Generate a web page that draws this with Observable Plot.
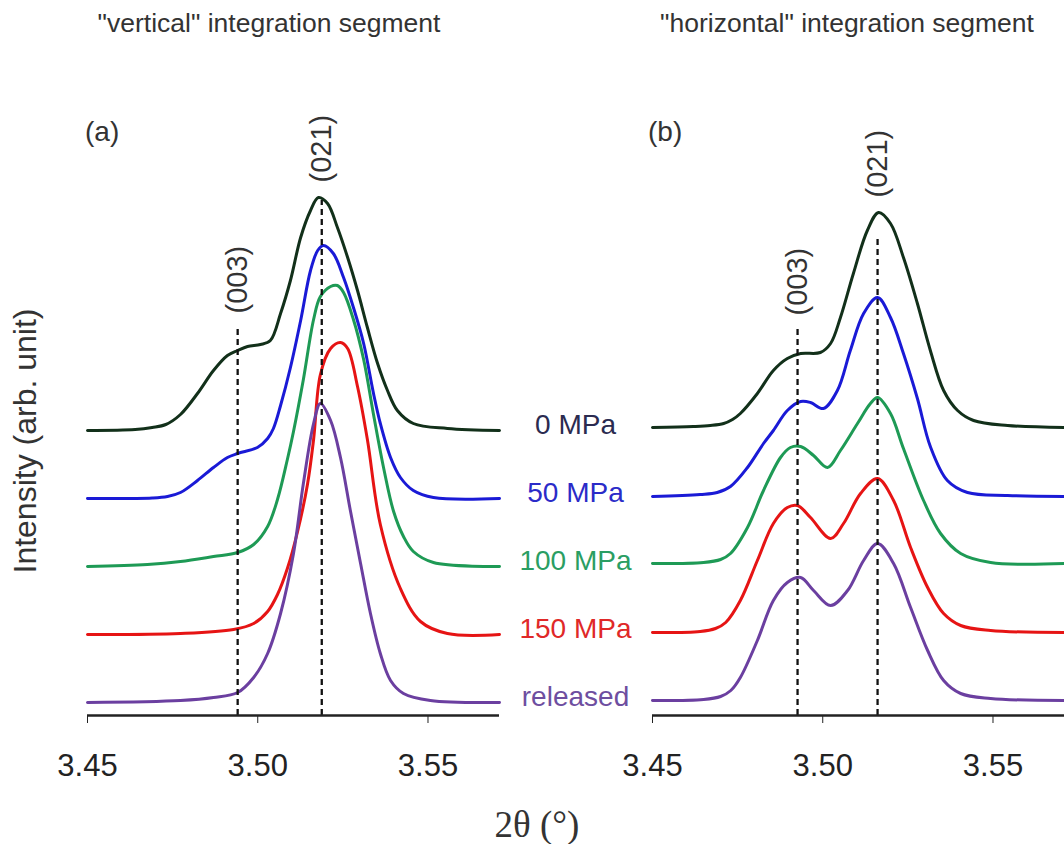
<!DOCTYPE html>
<html><head><meta charset="utf-8">
<script src="https://cdn.jsdelivr.net/npm/d3@7"></script>
<script src="https://cdn.jsdelivr.net/npm/@observablehq/plot@0.6"></script>
<style>
body{margin:0;background:#fff;}
#wrap{position:relative;width:1064px;height:844px;overflow:hidden;background:#fff;font-family:Arial,"Liberation Sans",sans-serif;}
#wrap > svg{position:absolute;top:0;}
</style></head><body><div id="wrap"></div>
<script>
// ---- data ----
const series = ["0 MPa", "50 MPa", "100 MPa", "150 MPa", "released"];
const lineColors = ["#12301a", "#1a1ad6", "#1e9a55", "#e61414", "#6b3fa0"];
const labelColors = ["#2b2b50", "#2b2bc8", "#2a9e63", "#e02828", "#6e4ea0"];
const xTicks = [3.45, 3.50, 3.55];
const xDomain = [3.45, 3.571];

// stacking offsets (arb. units) for each series
const offsetsA = [285, 217, 149, 81, 13];
const offsetsB = [288, 219, 152, 83, 15];

// panel (a) "vertical" integration segment: [2theta, intensity above own baseline]
const a0 = [[3.4500,0],[3.4640,1],[3.4690,3],[3.4730,6],[3.4773,16],[3.4823,37],[3.4870,60],[3.4911,75],[3.4941,80],[3.4970,84],[3.5008,86],[3.5037,90],[3.5067,117],[3.5096,150],[3.5126,193],[3.5155,220],[3.5178,233],[3.5205,227],[3.5234,203],[3.5264,173],[3.5293,140],[3.5322,103],[3.5352,67],[3.5381,40],[3.5410,20],[3.5457,7],[3.5557,2],[3.5710,0]];
const a1 = [[3.4500,0],[3.4690,0.5],[3.4735,2],[3.4773,6],[3.4823,18],[3.4870,31],[3.4911,41],[3.4941,45],[3.4999,51],[3.5029,60],[3.5046,70],[3.5067,93],[3.5096,131],[3.5126,178],[3.5155,228],[3.5176,248],[3.5193,253],[3.5222,245],[3.5252,221],[3.5281,191],[3.5311,155],[3.5340,105],[3.5360,75],[3.5390,41],[3.5419,21],[3.5457,8],[3.5516,1],[3.5710,0]];
const a2 = [[3.4500,0],[3.4676,2],[3.4773,5],[3.4870,10],[3.4941,14],[3.4988,22],[3.5029,40],[3.5058,67],[3.5087,107],[3.5105,135],[3.5134,187],[3.5164,247],[3.5184,270],[3.5214,280],[3.5234,281],[3.5252,274],[3.5281,247],[3.5311,207],[3.5340,152],[3.5370,98],[3.5399,55],[3.5428,30],[3.5457,15],[3.5516,4],[3.5710,0]];
const a3 = [[3.4500,0],[3.4773,1],[3.4929,5],[3.4988,11],[3.5029,23],[3.5058,40],[3.5087,66],[3.5117,103],[3.5146,150],[3.5164,195],[3.5184,260],[3.5214,286],[3.5243,292],[3.5264,286],[3.5293,248],[3.5322,195],[3.5360,110],[3.5419,46],[3.5478,13],[3.5557,1],[3.5710,0]];
const a4 = [[3.4500,0],[3.4773,2],[3.4870,5],[3.4941,10],[3.4988,25],[3.5029,49],[3.5067,89],[3.5105,149],[3.5134,219],[3.5164,279],[3.5184,299],[3.5214,282],[3.5243,245],[3.5272,192],[3.5302,139],[3.5331,89],[3.5360,49],[3.5390,22],[3.5428,9],[3.5507,2],[3.5710,0]];

// panel (b) "horizontal" integration segment
const b0 = [[3.4500,0],[3.4620,1],[3.4670,2],[3.4709,4],[3.4735,8],[3.4758,14],[3.4808,34],[3.4855,57],[3.4896,69],[3.4935,74],[3.4993,75],[3.5023,84],[3.5052,110],[3.5090,154],[3.5131,197],[3.5164,215],[3.5199,204],[3.5237,170],[3.5278,124],[3.5316,77],[3.5355,37],[3.5396,17],[3.5443,7],[3.5543,2],[3.5710,0]];
const b1 = [[3.4500,0],[3.4640,2],[3.4690,4],[3.4729,10],[3.4779,29],[3.4826,53],[3.4855,66],[3.4896,86],[3.4935,95],[3.4964,94],[3.5002,88],[3.5043,106],[3.5081,146],[3.5120,183],[3.5161,199],[3.5199,179],[3.5237,143],[3.5278,98],[3.5316,50],[3.5366,16],[3.5425,4],[3.5543,1],[3.5710,0]];
const b2 = [[3.4500,0],[3.4650,1],[3.4700,4],[3.4729,10],[3.4779,36],[3.4826,73],[3.4876,106],[3.4905,116],[3.4935,117],[3.4973,108],[3.5014,96],[3.5052,113],[3.5102,140],[3.5140,160],[3.5161,166],[3.5199,150],[3.5237,115],[3.5296,63],[3.5346,30],[3.5405,10],[3.5493,1],[3.5710,0]];
const b3 = [[3.4500,0],[3.4640,1],[3.4685,4],[3.4715,10],[3.4758,32],[3.4808,72],[3.4855,109],[3.4896,125],[3.4926,127],[3.4964,115],[3.5023,94],[3.5061,109],[3.5111,139],[3.5161,154],[3.5208,132],[3.5258,85],[3.5308,45],[3.5355,19],[3.5405,7],[3.5493,2],[3.5710,0]];
const b4 = [[3.4500,0],[3.4650,1],[3.4700,4],[3.4730,10],[3.4758,23],[3.4808,60],[3.4855,100],[3.4896,118],[3.4935,123],[3.4973,110],[3.5023,95],[3.5073,110],[3.5120,140],[3.5161,157],[3.5208,137],[3.5258,93],[3.5308,50],[3.5355,20],[3.5405,7],[3.5493,2],[3.5710,0]];

// reflection markers: position, dashed-line top, label start (arb. units)
const peakNames = ["(003)", "(021)"];
const peaksAx = [3.4941, 3.5188], peaksAtop = [390, 515], peaksAlabel = [402, 533];
const peaksBx = [3.4926, 3.5161], peaksBtop = [390, 477], peaksBlabel = [400, 518];

const titles = ["\"vertical\" integration segment", "\"horizontal\" integration segment"];
const panelTags = ["(a)", "(b)"];
const yLabel = "Intensity (arb. unit)";
const xLabel = "2θ (°)";

// ---- build ----
const FONT = "Arial, 'Liberation Sans', sans-serif";
function rowsOf(curves, offsets) {
  const rows = [];
  curves.forEach((c, i) => c.forEach(([x, h]) => rows.push({s: series[i], x, y: h + offsets[i]})));
  return rows;
}
function peaksOf(xs, tops, labels) {
  return xs.map((x, i) => ({name: peakNames[i], x, top: tops[i], label: labels[i]}));
}
function panel({curves, offsets, peaks, width, marginLeft, marginRight, legend}) {
  const marks = [
    Plot.line(rowsOf(curves, offsets), {x: "x", y: "y", z: "s", stroke: "s", strokeWidth: 3, curve: "catmull-rom"}),
    Plot.ruleX(peaks, {x: "x", y1: 0, y2: "top", stroke: "#111", strokeWidth: 2.3, strokeDasharray: "6,4"}),
    Plot.ruleY([0], {stroke: "#222", strokeWidth: 2.5}),
    Plot.text(peaks, {x: "x", y: "label", text: "name", rotate: -90, textAnchor: "start", lineAnchor: "middle", fontSize: 29, fill: "#333"})
  ];
  if (legend) {
    marks.push(Plot.text(series.map((s, i) => ({s, y: offsets[i], c: labelColors[i]})),
      {frameAnchor: "right", y: "y", text: "s", fill: "c", dx: 76, dy: -5, textAnchor: "middle", fontSize: 28}));
  }
  return Plot.plot({
    width, height: 844, marginTop: 100, marginBottom: 129, marginLeft, marginRight,
    x: {domain: xDomain, ticks: xTicks, tickFormat: d3.format(".2f"), tickSize: 8, tickPadding: 30, label: null},
    y: {domain: [0, 615], axis: null},
    color: {domain: series, range: lineColors},
    style: {fontSize: "31px", fontFamily: FONT, color: "#222", background: "transparent", overflow: "visible"},
    marks
  });
}

const wrap = document.getElementById("wrap");
const pa = panel({curves: [a0, a1, a2, a3, a4], offsets: offsetsA, peaks: peaksOf(peaksAx, peaksAtop, peaksAlabel), width: 640, marginLeft: 87, marginRight: 141, legend: true});
pa.style.left = "0px";
wrap.appendChild(pa);
const pb = panel({curves: [b0, b1, b2, b3, b4], offsets: offsetsB, peaks: peaksOf(peaksBx, peaksBtop, peaksBlabel), width: 424, marginLeft: 12, marginRight: 0, legend: false});
pb.style.left = "640px";
wrap.appendChild(pb);

// overlay text (titles, panel tags, axis labels)
const ov = d3.select(wrap).append("svg").attr("width", 1064).attr("height", 844)
  .style("left", "0px").style("pointer-events", "none");
ov.append("text").attr("x", 269).attr("y", 32).attr("text-anchor", "middle").attr("font-family", FONT).attr("font-size", 26.5).attr("fill", "#333").text(titles[0]);
ov.append("text").attr("x", 847).attr("y", 32).attr("text-anchor", "middle").attr("font-family", FONT).attr("font-size", 26.5).attr("fill", "#333").text(titles[1]);
ov.append("text").attr("x", 85).attr("y", 141).attr("font-family", FONT).attr("font-size", 28).attr("fill", "#333").text(panelTags[0]);
ov.append("text").attr("x", 648).attr("y", 141).attr("font-family", FONT).attr("font-size", 28).attr("fill", "#333").text(panelTags[1]);
ov.append("text").attr("transform", "translate(36,441) rotate(-90)").attr("text-anchor", "middle").attr("font-family", FONT).attr("font-size", 32).attr("fill", "#333").text(yLabel);
ov.append("text").attr("x", 537).attr("y", 837).attr("text-anchor", "middle").attr("font-family", "'Liberation Serif', 'DejaVu Serif', serif").attr("font-size", 37).attr("fill", "#333").text(xLabel);
</script></body></html>
